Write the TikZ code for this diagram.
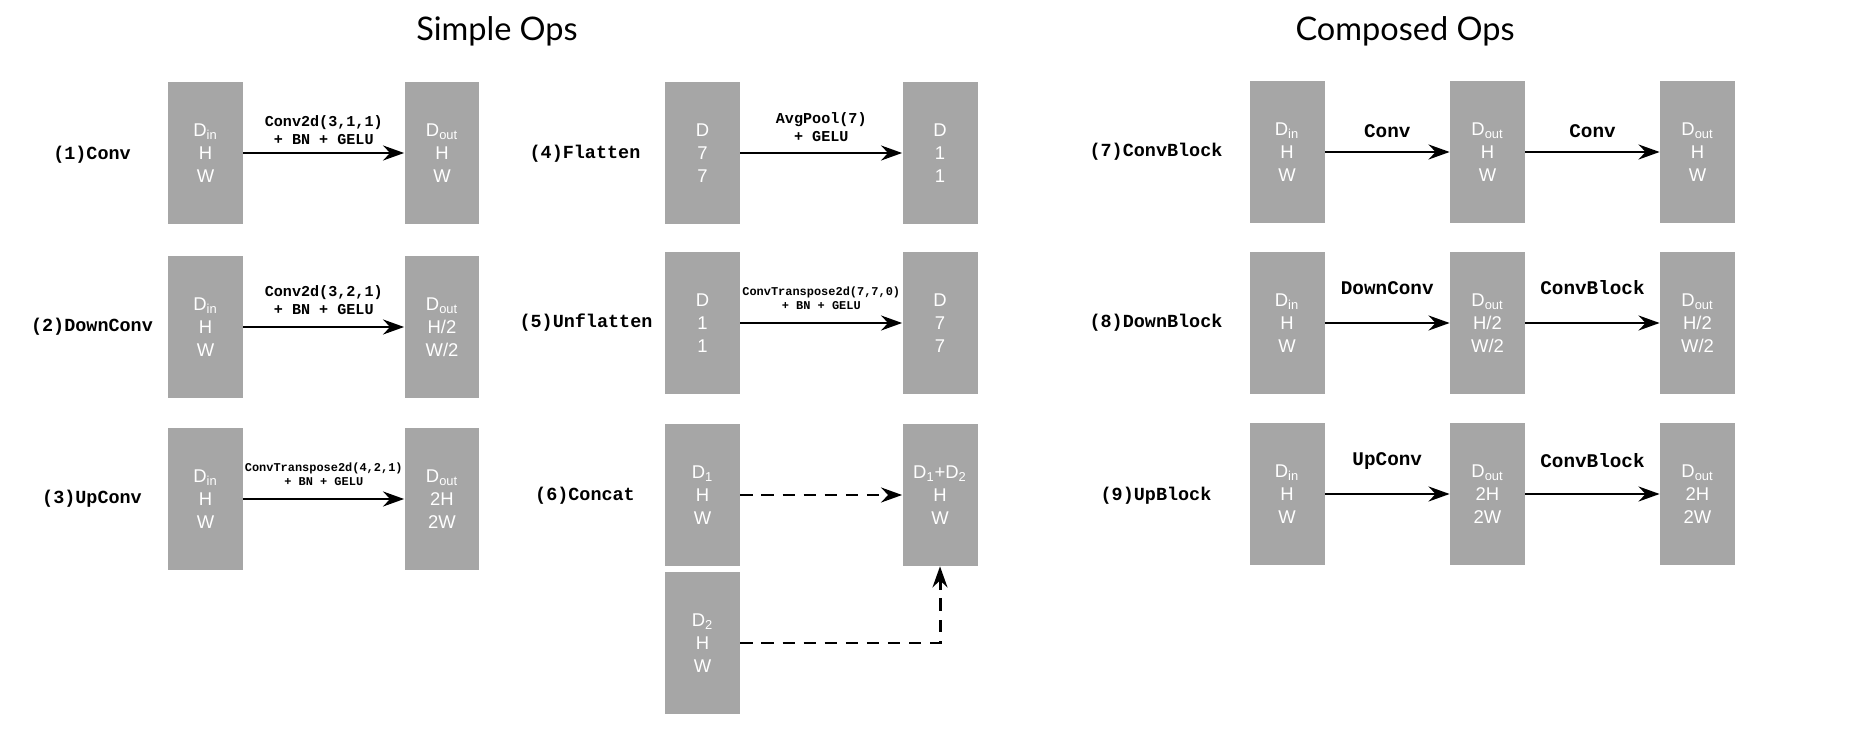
\documentclass[tikz,border=0pt]{standalone}
\usepackage{fontspec}
\setmainfont{Liberation Sans}
\newfontfamily\monoFont{Liberation Mono}
\newfontfamily\titleFont{Lato}
\usepackage{xcolor}
\usetikzlibrary{arrows.meta,positioning,calc}
\definecolor{boxGray}{RGB}{166,166,166}
\tikzset{%
  tensor/.style={fill=boxGray, text=white, inner sep=0pt, minimum width=1.5cm,
    minimum height=2.84cm, align=center, font=\fontsize{10.5}{13}\selectfont},
  rowLabel/.style={inner sep=0pt, font=\monoFont\bfseries\fontsize{10.5}{12}\selectfont},
  opLabel/.style={align=center, inner sep=0pt, font=\monoFont\bfseries\fontsize{8.6}{10.2}\selectfont},
  opTiny/.style={opLabel, font=\monoFont\bfseries\fontsize{6.8}{7.6}\selectfont},
  blockLabel/.style={inner sep=0pt, font=\monoFont\bfseries\fontsize{11}{13}\selectfont},
  titleText/.style={inner sep=0pt, font=\titleFont\fontsize{18.5}{22}\selectfont},
  flow/.style={line width=1.7pt, -{Stealth[length=12pt,width=8.5pt,inset=4pt]}},
  dashFlow/.style={flow, dash pattern=on 7pt off 5pt}
}

\begin{document}
\begin{tikzpicture}[x=0.02cm, y=-0.02cm]
\useasboundingbox (0,0) rectangle (1870,736);

\node[titleText] (simpleTitle) at (497,31) {Simple Ops};
\node[titleText] (composedTitle) at (1405,31) {Composed Ops};

% simple ops, first column
\node[tensor] (convIn) at (205.5,153) {D\textsubscript{in}\\H\\W};
\node[tensor] (convOut) at (442,153) {D\textsubscript{out}\\H\\W};
\node[rowLabel] (convName) at (92,155) {(1)Conv};

\node[tensor] (downIn) at (205.5,327) {D\textsubscript{in}\\H\\W};
\node[tensor] (downOut) at (442,327) {D\textsubscript{out}\\H/2\\W/2};
\node[rowLabel] (downName) at (92,327) {(2)DownConv};

\node[tensor] (upIn) at (205.5,499) {D\textsubscript{in}\\H\\W};
\node[tensor] (upOut) at (442,499) {D\textsubscript{out}\\2H\\2W};
\node[rowLabel] (upName) at (92,499) {(3)UpConv};

\draw[flow] (convIn) -- node[opLabel, above=4pt] {Conv2d(3,1,1)\\+ BN + GELU} (convOut);
\draw[flow] (downIn) -- node[opLabel, above=6pt] {Conv2d(3,2,1)\\+ BN + GELU} (downOut);
\draw[flow] (upIn) -- node[opTiny, above=7pt] {ConvTranspose2d(4,2,1)\\+ BN + GELU} (upOut);

% simple ops, second column
\node[tensor] (flatIn) at (702.5,153) {D\\7\\7};
\node[tensor] (flatOut) at (940,153) {D\\1\\1};
\node[rowLabel] (flatName) at (585,154) {(4)Flatten};

\node[tensor] (unflatIn) at (702.5,323) {D\\1\\1};
\node[tensor] (unflatOut) at (940,323) {D\\7\\7};
\node[rowLabel] (unflatName) at (586,323) {(5)Unflatten};

\node[tensor] (catOne) at (702.5,495) {D\textsubscript{1}\\H\\W};
\node[tensor] (catTwo) at (702.5,643) {D\textsubscript{2}\\H\\W};
\node[tensor] (catOut) at (940,495) {D\textsubscript{1}+D\textsubscript{2}\\H\\W};
\node[rowLabel] (catName) at (585,496) {(6)Concat};

\draw[flow] (flatIn) -- node[opLabel, above=5.5pt] {AvgPool(7)\\+ GELU} (flatOut);
\draw[flow] (unflatIn) -- node[opTiny, above=7pt] {ConvTranspose2d(7,7,0)\\+ BN + GELU} (unflatOut);
\draw[dashFlow] (catOne) -- (catOut);
\draw[dashFlow] (catTwo) -| (catOut);

% composed ops
\node[tensor] (cbIn) at (1287,152) {D\textsubscript{in}\\H\\W};
\node[tensor] (cbMid) at (1487.5,152) {D\textsubscript{out}\\H\\W};
\node[tensor] (cbOut) at (1697.5,152) {D\textsubscript{out}\\H\\W};
\node[rowLabel] (cbName) at (1156,152) {(7)ConvBlock};

\node[tensor] (dbIn) at (1287,323) {D\textsubscript{in}\\H\\W};
\node[tensor] (dbMid) at (1487.5,323) {D\textsubscript{out}\\H/2\\W/2};
\node[tensor] (dbOut) at (1697.5,323) {D\textsubscript{out}\\H/2\\W/2};
\node[rowLabel] (dbName) at (1156,323) {(8)DownBlock};

\node[tensor] (ubIn) at (1287,494) {D\textsubscript{in}\\H\\W};
\node[tensor] (ubMid) at (1487.5,494) {D\textsubscript{out}\\2H\\2W};
\node[tensor] (ubOut) at (1697.5,494) {D\textsubscript{out}\\2H\\2W};
\node[rowLabel] (ubName) at (1156,496) {(9)UpBlock};

\draw[flow] (cbIn) -- node[blockLabel, above=7.5pt] {Conv} (cbMid);
\draw[flow] (cbMid) -- node[blockLabel, above=7.5pt] {Conv} (cbOut);
\draw[flow] (dbIn) -- node[blockLabel, above=15pt] {DownConv} (dbMid);
\draw[flow] (dbMid) -- node[blockLabel, above=15pt] {ConvBlock} (dbOut);
\draw[flow] (ubIn) -- node[blockLabel, above=13pt] {UpConv} (ubMid);
\draw[flow] (ubMid) -- node[blockLabel, above=14pt] {ConvBlock} (ubOut);
\end{tikzpicture}
\end{document}
